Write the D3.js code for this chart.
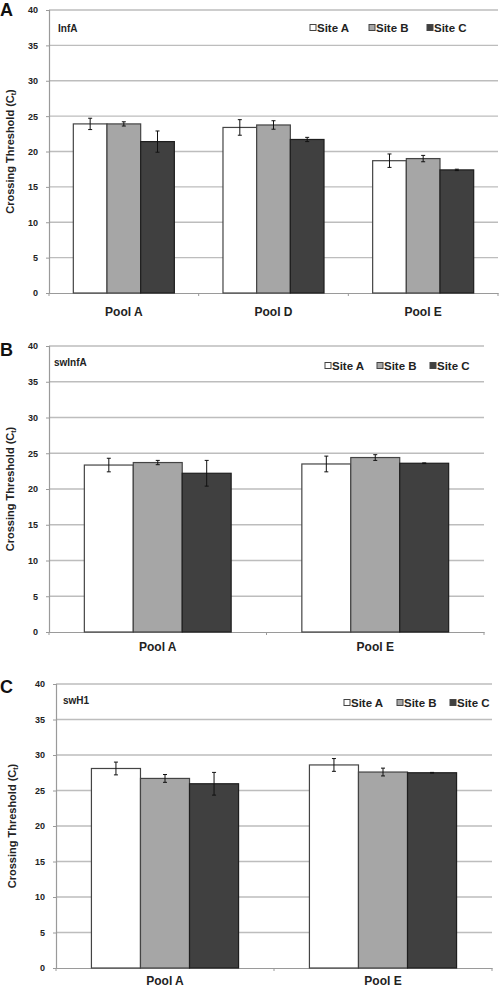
<!DOCTYPE html>
<html><head><meta charset="utf-8">
<script src="https://cdn.jsdelivr.net/npm/d3@7"></script>
<style>
body{margin:0;background:#fff;}
svg{display:block;font-family:Arial,"Liberation Sans",sans-serif;}
</style></head>
<body>
<svg id="chart" width="500" height="990"></svg>
<script>
// ---- data ----
const series = ["Site A", "Site B", "Site C"];
const seriesFill = ["#ffffff", "#a6a6a6", "#404040"];
const yTicks = [0, 5, 10, 15, 20, 25, 30, 35, 40];

const infA_categories = ["Pool A", "Pool D", "Pool E"];
const infA_siteA = [23.9, 23.4, 18.7];
const infA_siteA_err = [0.8, 1.1, 0.95];
const infA_siteB = [23.9, 23.75, 19.0];
const infA_siteB_err = [0.3, 0.6, 0.45];
const infA_siteC = [21.4, 21.7, 17.4];
const infA_siteC_err = [1.5, 0.3, 0.1];

const swInfA_categories = ["Pool A", "Pool E"];
const swInfA_siteA = [23.35, 23.5];
const swInfA_siteA_err = [0.95, 1.1];
const swInfA_siteB = [23.7, 24.4];
const swInfA_siteB_err = [0.3, 0.4];
const swInfA_siteC = [22.2, 23.6];
const swInfA_siteC_err = [1.8, 0.05];

const swH1_categories = ["Pool A", "Pool E"];
const swH1_siteA = [28.1, 28.6];
const swH1_siteA_err = [0.9, 0.9];
const swH1_siteB = [26.7, 27.6];
const swH1_siteB_err = [0.55, 0.55];
const swH1_siteC = [25.95, 27.5];
const swH1_siteC_err = [1.6, 0.05];

const panels = [
  {letter:"A", title:"InfA", cats:infA_categories,
   vals:[infA_siteA, infA_siteB, infA_siteC], errs:[infA_siteA_err, infA_siteB_err, infA_siteC_err],
   x0:49, x1:498, yTop:10, yBot:293, legX:[313,372,430], legY:28, titleX:58, titleY:32,
   letterY:16, catY:316},
  {letter:"B", title:"swInfA", cats:swInfA_categories,
   vals:[swInfA_siteA, swInfA_siteB, swInfA_siteC], errs:[swInfA_siteA_err, swInfA_siteB_err, swInfA_siteC_err],
   x0:49, x1:484, yTop:346, yBot:632, legX:[328,380,433], legY:366, titleX:54, titleY:366,
   letterY:356, catY:651},
  {letter:"C", title:"swH1", cats:swH1_categories,
   vals:[swH1_siteA, swH1_siteB, swH1_siteC], errs:[swH1_siteA_err, swH1_siteB_err, swH1_siteC_err],
   x0:56, x1:492, yTop:684, yBot:968, legX:[347,400,453], legY:703, titleX:63, titleY:704,
   letterY:693, catY:985}
];

const svg = d3.select("#chart");

panels.forEach(p => {
  const g = svg.append("g");
  const y = d3.scaleLinear().domain([0, 40]).range([p.yBot, p.yTop]);
  const x = d3.scaleBand().domain(p.cats).range([p.x0, p.x1]).paddingInner(0).paddingOuter(0);
  const bw = x.bandwidth();
  const xs = d3.scaleBand().domain(series).range([bw*0.1625, bw*0.8375]).padding(0);

  // gridlines
  g.append("g").selectAll("line").data(yTicks.filter(t => t > 0)).join("line")
    .attr("x1", p.x0).attr("x2", p.x1)
    .attr("y1", d => y(d)).attr("y2", d => y(d))
    .attr("stroke", "#bdbdbd").attr("stroke-width", 1.3);

  // y axis
  const ya = g.append("g").attr("transform", `translate(${p.x0},0)`)
    .call(d3.axisLeft(y).tickValues(yTicks).tickSize(3).tickPadding(8));
  ya.select(".domain").attr("stroke", "#9a9a9a").attr("stroke-width", 1.2);
  ya.selectAll(".tick line").attr("stroke", "#9a9a9a");
  ya.selectAll("text").attr("font-size", 9).attr("font-weight", "bold").attr("fill", "#222")
    .attr("font-family", "Arial, 'Liberation Sans', sans-serif");

  // x axis
  const xa = g.append("g").attr("transform", `translate(0,${p.yBot})`)
    .call(d3.axisBottom(x).tickSize(0).tickPadding(13));
  xa.select(".domain").attr("stroke", "#9a9a9a").attr("stroke-width", 1.2);
  xa.selectAll("text").attr("font-size", 12).attr("font-weight", "bold").attr("fill", "#222")
    .attr("font-family", "Arial, 'Liberation Sans', sans-serif")
    .attr("dy", null).attr("y", null)
    .attr("transform", null);
  xa.selectAll(".tick text").attr("y", p.catY - p.yBot);
  // boundary ticks
  const bounds = p.cats.map(c => x(c)).concat([p.x1]);
  g.append("g").selectAll("line").data(bounds).join("line")
    .attr("x1", d => d).attr("x2", d => d)
    .attr("y1", p.yBot).attr("y2", p.yBot + 3)
    .attr("stroke", "#9a9a9a").attr("stroke-width", 1);

  // bars
  series.forEach((s, si) => {
    const vals = p.vals[si], errs = p.errs[si];
    const sg = g.append("g");
    sg.selectAll("rect").data(p.cats).join("rect")
      .attr("x", (c) => x(c) + xs(s))
      .attr("y", (c, i) => y(vals[i]))
      .attr("width", xs.bandwidth())
      .attr("height", (c, i) => y(0) - y(vals[i]))
      .attr("fill", seriesFill[si])
      .attr("stroke", si === 2 ? "#1e1e1e" : "#444")
      .attr("stroke-width", 1.2);
    // error bars
    const eg = g.append("g").attr("stroke", "#111").attr("stroke-width", 1);
    p.cats.forEach((c, i) => {
      const cx = x(c) + xs(s) + xs.bandwidth()/2;
      const lo = y(vals[i] - errs[i]), hi = y(vals[i] + errs[i]);
      eg.append("line").attr("x1", cx).attr("x2", cx).attr("y1", lo).attr("y2", hi);
      eg.append("line").attr("x1", cx-2).attr("x2", cx+2).attr("y1", lo).attr("y2", lo);
      eg.append("line").attr("x1", cx-2).attr("x2", cx+2).attr("y1", hi).attr("y2", hi);
    });
  });

  // legend
  series.forEach((s, si) => {
    const lx = p.legX[si];
    g.append("rect").attr("x", lx - 3).attr("y", p.legY - 3.5).attr("width", 6).attr("height", 6)
      .attr("fill", seriesFill[si]).attr("stroke", "#444").attr("stroke-width", 1);
    g.append("text").attr("x", lx + 4).attr("y", p.legY + 4)
      .attr("font-size", 11.5).attr("font-weight", "bold").attr("fill", "#222").text(s);
  });

  // panel title
  g.append("text").attr("x", p.titleX).attr("y", p.titleY)
    .attr("font-size", 10).attr("font-weight", "bold").attr("fill", "#222").text(p.title);

  // panel letter
  g.append("text").attr("x", 0).attr("y", p.letterY)
    .attr("font-size", 18).attr("font-weight", "bold").attr("fill", "#111").text(p.letter);

  // y label
  const cy = (p.yTop + p.yBot) / 2;
  const lab = g.append("text")
    .attr("transform", `translate(${p.letter === "C" ? 16 : 14},${cy}) rotate(-90)`)
    .attr("text-anchor", "middle").attr("font-size", 11).attr("font-weight", "bold").attr("fill", "#222");
  lab.append("tspan").text("Crossing Threshold (C");
  lab.append("tspan").attr("font-size", 7).attr("dy", 2).text("t");
  lab.append("tspan").attr("dy", -2).text(")");
});
</script>
</body></html>
